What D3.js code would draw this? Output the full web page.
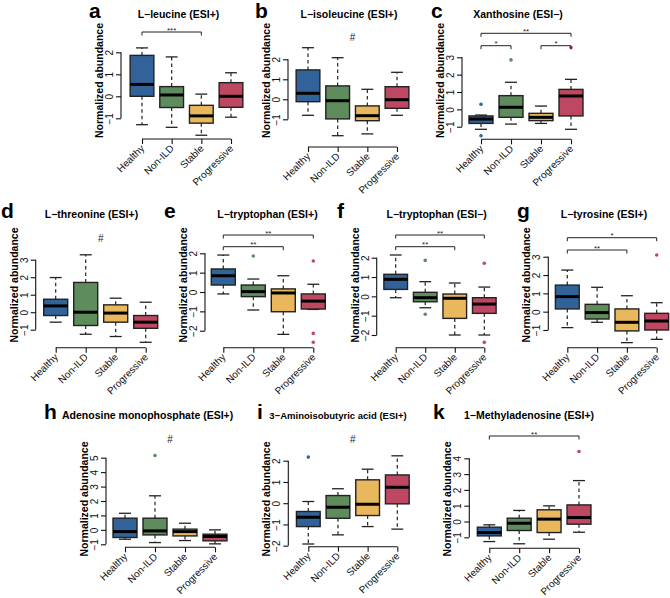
<!DOCTYPE html>
<html>
<head>
<meta charset="utf-8">
<script src="https://cdn.jsdelivr.net/npm/d3@7"></script>
<style>
  html, body { margin: 0; padding: 0; background: #fff; }
  svg { display: block; font-family: "Liberation Sans", Arial, Helvetica, sans-serif; }
</style>
</head>
<body>
<svg id="chart" width="670" height="598"></svg>
<script>
// ---------------- DATA ----------------
const groups = ["Healthy", "Non-ILD", "Stable", "Progressive"];

// each box: [lower whisker, Q1, median, Q3, upper whisker]
const leucineStats = [[-1.29, 0, 0.54, 1.86, 2.2], [-1.41, -0.51, 0.06, 0.44, 1.79], [-1.77, -1.22, -0.89, -0.41, 0.1], [-0.95, -0.5, 0, 0.62, 1.07]];
const leucineOut = [[], [], [], []];
const leucineTicks = [-1, 0, 1, 2];

const isoleucineStats = [[-0.8, -0.12, 0.3, 1.47, 2.58], [-1.82, -0.98, -0.07, 0.67, 2.08], [-1.73, -1.07, -0.82, -0.33, 0.5], [-0.8, -0.45, -0.02, 0.63, 1.35]];
const isoleucineOut = [[], [], [], []];
const isoleucineTicks = [-1, 0, 1, 2];

const xanthosineStats = [[-1.15, -0.81, -0.56, -0.38, -0.33], [-0.85, -0.46, 0.12, 0.79, 1.56], [-0.81, -0.65, -0.46, -0.23, 0.19], [-1.15, -0.38, 0.77, 1.15, 1.73]];
const xanthosineOut = [[0.29, -1.52], [2.85], [], [3.56]];
const xanthosineTicks = [-1, 0, 1, 2, 3];

const threonineStats = [[-0.57, -0.19, 0.36, 0.74, 1.98], [-1.26, -0.76, 0, 1.7, 3.28], [-1.39, -0.57, -0.05, 0.42, 0.8], [-1.72, -0.92, -0.57, -0.19, 0.57]];
const threonineOut = [[], [], [], []];
const threonineTicks = [-1, 0, 1, 2, 3];

const tryptoPosStats = [[-0.1, 0.36, 0.84, 1.19, 1.91], [-0.93, -0.24, 0.02, 0.36, 0.67], [-2.19, -1.02, -0.05, 0.16, 0.84], [-0.9, -0.88, -0.47, -0.1, 0.4]];
const tryptoPosOut = [[], [1.86], [], [1.6, -2.14, -2.6]];
const tryptoPosTicks = [-2, -1, 0, 1, 2];

const tryptoNegStats = [[-0.07, 0.36, 0.88, 1.14, 2.14], [-0.59, -0.28, -0.07, 0.21, 0.76], [-2.0, -1.14, -0.1, 0.12, 0.69], [-2.0, -0.88, -0.4, -0.07, 0.48]];
const tryptoNegOut = [[], [1.86, -0.93], [], [1.71, -2.38]];
const tryptoNegTicks = [-2, -1, 0, 1, 2];

const tyrosineStats = [[-0.87, 0.15, 0.82, 1.45, 2.27], [-0.58, -0.4, -0.05, 0.4, 1.33], [-1.69, -1.05, -0.58, 0.15, 0.87], [-1.51, -1.0, -0.51, -0.09, 0.49]];
const tyrosineOut = [[], [], [], [3.09]];
const tyrosineTicks = [-1, 0, 1, 2, 3];

const ampStats = [[-0.65, -0.53, -0.12, 0.81, 1.15], [-0.88, -0.35, -0.07, 0.81, 2.36], [-0.74, -0.42, -0.12, 0.05, 0.46], [-0.97, -0.76, -0.46, -0.3, 0.0]];
const ampOut = [[], [5.15], [], []];
const ampTicks = [-1, 0, 1, 2, 3, 4, 5];

const aibaStats = [[-1.92, -1.1, -0.66, -0.39, 0.08], [-1.49, -0.71, -0.19, 0.36, 0.68], [-1.1, -0.58, -0.05, 1.1, 1.6], [-1.22, -0.03, 0.75, 1.33, 2.23]];
const aibaOut = [[2.17], [], [], []];
const aibaTicks = [-2, -1, 0, 1, 2];

const madeStats = [[-1.27, -0.91, -0.7, -0.36, -0.21], [-1.41, -0.57, -0.11, 0.21, 0.7], [-1.12, -0.7, 0.15, 0.74, 0.99], [-0.68, -0.17, 0.25, 1.05, 2.59]];
const madeOut = [[], [], [], [4.43]];
const madeTicks = [-1, 0, 1, 2, 3, 4];

// significance brackets: [from group, to group, label]
const leucineSig = [[0, 2, "***"]];
const xanthosineSig = [[0, 3, "**"], [0, 1, "*"], [2, 3, "*"]];
const tryptoPosSig = [[0, 3, "**"], [0, 2, "**"]];
const tryptoNegSig = [[0, 3, "**"], [0, 2, "**"]];
const tyrosineSig = [[0, 3, "*"], [0, 2, "**"]];
const madeSig = [[0, 3, "**"]];

const panels = [
  { letter: "a", title: "L\u2212leucine (ESI+)", stats: leucineStats, out: leucineOut, ticks: leucineTicks, sig: leucineSig, hash: false },
  { letter: "b", title: "L\u2212isoleucine (ESI+)", stats: isoleucineStats, out: isoleucineOut, ticks: isoleucineTicks, sig: [], hash: true },
  { letter: "c", title: "Xanthosine (ESI\u2212)", stats: xanthosineStats, out: xanthosineOut, ticks: xanthosineTicks, sig: xanthosineSig, hash: false },
  { letter: "d", title: "L\u2212threonine (ESI+)", stats: threonineStats, out: threonineOut, ticks: threonineTicks, sig: [], hash: true },
  { letter: "e", title: "L\u2212tryptophan (ESI+)", stats: tryptoPosStats, out: tryptoPosOut, ticks: tryptoPosTicks, sig: tryptoPosSig, hash: false },
  { letter: "f", title: "L\u2212tryptophan (ESI\u2212)", stats: tryptoNegStats, out: tryptoNegOut, ticks: tryptoNegTicks, sig: tryptoNegSig, hash: false },
  { letter: "g", title: "L\u2212tyrosine (ESI+)", stats: tyrosineStats, out: tyrosineOut, ticks: tyrosineTicks, sig: tyrosineSig, hash: false },
  { letter: "h", title: "Adenosine monophosphate (ESI+)", stats: ampStats, out: ampOut, ticks: ampTicks, sig: [], hash: true },
  { letter: "i", title: "3\u2212Aminoisobutyric acid (ESI+)", stats: aibaStats, out: aibaOut, ticks: aibaTicks, sig: [], hash: true },
  { letter: "k", title: "1\u2212Methyladenosine (ESI+)", stats: madeStats, out: madeOut, ticks: madeTicks, sig: madeSig, hash: false }
];

// ---------------- LAYOUT (pixels) ----------------
const layout = [
  { axisX: 121,   x1: 142,   x4: 231,   yLo: 118.3, yHi: 52.3,  xAxisY: 139,   brY: [32],          hashY: 0,     titleX: 178.5, titleY: 17.5, letterX: 89,  letterY: 18.3, labelY: 80.5 },
  { axisX: 288,   x1: 308,   x4: 397,   yLo: 119.3, yHi: 59.3,  xAxisY: 147,   brY: [],            hashY: 37,    titleX: 349,   titleY: 17.5, letterX: 255, letterY: 18.3, labelY: 80.5 },
  { axisX: 462,   x1: 481,   x4: 571,   yLo: 126.7, yHi: 57.3,  xAxisY: 139.3, brY: [33.3, 45.7, 45.7], hashY: 0, titleX: 518, titleY: 17.5, letterX: 431, letterY: 18.3, labelY: 80.5 },
  { axisX: 35.7,  x1: 55.7,  x4: 145.7, yLo: 329.7, yHi: 259.7, xAxisY: 347.7, brY: [],            hashY: 238,   titleX: 91.5,  titleY: 218,  letterX: 1,   letterY: 218.3, labelY: 285 },
  { axisX: 205,   x1: 223.3, x4: 313.3, yLo: 330.7, yHi: 253.3, xAxisY: 347.7, brY: [235, 246.7],  hashY: 0,     titleX: 267.5, titleY: 218,  letterX: 164, letterY: 218.3, labelY: 285 },
  { axisX: 376.7, x1: 395.7, x4: 484.3, yLo: 335,   yHi: 257.7, xAxisY: 347.7, brY: [235, 246.7],  hashY: 0,     titleX: 436.7, titleY: 218,  letterX: 337, letterY: 218.3, labelY: 285 },
  { axisX: 548.3, x1: 567.3, x4: 656.7, yLo: 330,   yHi: 256.7, xAxisY: 347.7, brY: [237.7, 250],  hashY: 0,     titleX: 604,   titleY: 218,  letterX: 517, letterY: 218.3, labelY: 285 },
  { axisX: 106,   x1: 125,   x4: 215,   yLo: 544.3, yHi: 457.7, xAxisY: 547.3, brY: [],            hashY: 439.3, titleX: 62,    titleY: 419,  letterX: 44,  letterY: 419, labelY: 499, titleAnchor: "start" },
  { axisX: 288.3, x1: 308.3, x4: 397.3, yLo: 545.7, yHi: 460.7, xAxisY: 546.7, brY: [],            hashY: 439.3, titleX: 338,   titleY: 419,  letterX: 257, letterY: 419, labelY: 499, titleSize: 9.5 },
  { axisX: 469.3, x1: 489.3, x4: 579,   yLo: 537.3, yHi: 458.3, xAxisY: 548.3, brY: [436],         hashY: 0,     titleX: 529,   titleY: 419,  letterX: 433, letterY: 419, labelY: 499 }
];

const fills = ["#31639A", "#5E8C5C", "#E9B85C", "#BE4861"];

// ---------------- DRAW ----------------
const svg = d3.select("#chart");
svg.append("rect").attr("width", 670).attr("height", 598).attr("fill", "#fff");

panels.forEach((p, pi) => {
  const L = layout[pi];
  const g = svg.append("g");
  const x = d3.scalePoint().domain(groups).range([L.x1, L.x4]);
  const step = x.step();
  const bw = step * 0.8;
  const t = p.ticks;
  const y = d3.scaleLinear().domain([t[0], t[t.length - 1]]).range([L.yLo, L.yHi]);

  g.append("text").attr("x", L.letterX).attr("y", L.letterY)
    .attr("font-size", 21).attr("font-weight", "bold").text(p.letter);
  g.append("text").attr("x", L.titleX).attr("y", L.titleY)
    .attr("text-anchor", L.titleAnchor || "middle")
    .attr("font-size", L.titleSize || 10.5).attr("font-weight", "bold").text(p.title);
  g.append("text").attr("transform", `translate(${L.axisX - 18},${L.labelY}) rotate(-90)`)
    .attr("text-anchor", "middle").attr("font-size", 10.5).attr("font-weight", "bold")
    .text("Normalized abundance");

  const yAxis = d3.axisLeft(y).tickValues(t).tickSize(5).tickSizeOuter(0)
    .tickFormat(d => d < 0 ? "\u2212" + Math.abs(d) : String(d));
  const ya = g.append("g").attr("transform", `translate(${L.axisX},0)`).call(yAxis);
  ya.select(".domain").attr("stroke", "#111").attr("stroke-width", 1.1)
    .attr("d", `M0,${y(t[0])}V${y(t[t.length - 1])}`);
  ya.selectAll(".tick line").attr("stroke", "#111").attr("stroke-width", 1.1);
  ya.selectAll(".tick text")
    .attr("font-size", 10).attr("fill", "#111").attr("font-family", null)
    .attr("x", null).attr("dy", null)
    .attr("transform", "translate(-8,0) rotate(-90)")
    .attr("text-anchor", "middle").attr("y", 0);

  const xAxis = d3.axisBottom(x).tickSize(5).tickSizeOuter(0).tickFormat("");
  const xa = g.append("g").attr("transform", `translate(0,${L.xAxisY})`).call(xAxis);
  xa.select(".domain").attr("stroke", "#111").attr("stroke-width", 1.1)
    .attr("d", `M${L.x1},0H${L.x4}`);
  xa.selectAll(".tick line").attr("stroke", "#111").attr("stroke-width", 1.1);
  groups.forEach(gr => {
    g.append("text")
      .attr("transform", `translate(${x(gr) + 3},${L.xAxisY + 10}) rotate(-45)`)
      .attr("text-anchor", "end").attr("font-size", 10).attr("fill", "#111").text(gr);
  });

  groups.forEach((gr, gi) => {
    const s = p.stats[gi];
    const cx = x(gr);
    const bg = g.append("g");
    bg.append("line").attr("x1", cx).attr("x2", cx).attr("y1", y(s[3])).attr("y2", y(s[4]))
      .attr("stroke", "#222").attr("stroke-width", 1.2).attr("stroke-dasharray", "3.5,3");
    bg.append("line").attr("x1", cx).attr("x2", cx).attr("y1", y(s[1])).attr("y2", y(s[0]))
      .attr("stroke", "#222").attr("stroke-width", 1.2).attr("stroke-dasharray", "3.5,3");
    [s[0], s[4]].forEach(v => {
      bg.append("line").attr("x1", cx - bw / 4).attr("x2", cx + bw / 4).attr("y1", y(v)).attr("y2", y(v))
        .attr("stroke", "#222").attr("stroke-width", 1.3);
    });
    bg.append("rect").attr("x", cx - bw / 2).attr("width", bw)
      .attr("y", y(s[3])).attr("height", Math.max(0.5, y(s[1]) - y(s[3])))
      .attr("fill", fills[gi]).attr("stroke", "#222").attr("stroke-width", 1.4);
    bg.append("line").attr("x1", cx - bw / 2).attr("x2", cx + bw / 2).attr("y1", y(s[2])).attr("y2", y(s[2]))
      .attr("stroke", "#000").attr("stroke-width", 3);
    p.out[gi].forEach(v => {
      bg.append("circle").attr("cx", cx).attr("cy", y(v)).attr("r", 1.8).attr("fill", fills[gi]);
    });
  });

  p.sig.forEach((sg, si) => {
    const by = L.brY[si];
    const xa1 = x(groups[sg[0]]), xa2 = x(groups[sg[1]]);
    g.append("path").attr("d", `M${xa1},${by + 3.5}V${by}H${xa2}V${by + 3.5}`)
      .attr("fill", "none").attr("stroke", "#222").attr("stroke-width", 1);
    g.append("text").attr("x", (xa1 + xa2) / 2).attr("y", by + 0.5)
      .attr("text-anchor", "middle").attr("font-size", 8).attr("fill", "#222").text(sg[2]);
  });
  if (p.hash) {
    g.append("text").attr("x", (L.x1 + L.x4) / 2).attr("y", L.hashY + 3.5)
      .attr("text-anchor", "middle").attr("font-size", 10).attr("fill", "#222").text("#");
  }
});
</script>
</body>
</html>
